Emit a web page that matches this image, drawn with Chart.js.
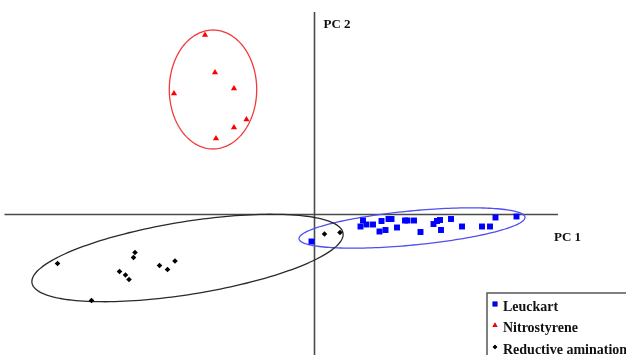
<!DOCTYPE html>
<html>
<head>
<meta charset="utf-8">
<script src="https://cdn.jsdelivr.net/npm/chart.js@4"></script>
<style>
  html, body { margin: 0; padding: 0; background: #fff; overflow: hidden; }
  #wrap { width: 626px; height: 355px; position: relative; }
</style>
</head>
<body>
<div id="wrap"><canvas id="pca"></canvas></div>
<script>
// PCA scores (PC 1, PC 2) for each synthesis route
const leuckartPC1 = [-0.06, 0.97, 0.92, 1.04, 1.17, 1.34, 1.30, 1.42, 1.48, 1.54, 1.65, 1.81, 1.86, 1.99, 2.12, 2.38, 2.45, 2.51, 2.53, 2.73, 2.95, 3.35, 3.51, 3.62, 4.04];
const leuckartPC2 = [-0.54, -0.12, -0.24, -0.20, -0.20, -0.13, -0.34, -0.31, -0.09, -0.09, -0.26, -0.12, -0.12, -0.12, -0.35, -0.19, -0.13, -0.11, -0.31, -0.09, -0.24, -0.24, -0.24, -0.06, -0.04];

const nitroPC1 = [-2.19, -1.99, -1.61, -2.81, -1.36, -1.61, -1.97];
const nitroPC2 = [3.59, 2.84, 2.52, 2.42, 1.90, 1.74, 1.52];

const reductivePC1 = [-5.14, -4.46, -3.59, -3.62, -3.90, -3.78, -3.71, -3.10, -2.94, -2.79, 0.20, 0.51];
const reductivePC2 = [-0.98, -1.72, -0.76, -0.86, -1.14, -1.21, -1.30, -1.02, -1.10, -0.93, -0.39, -0.36];

const seriesNames = ['Leuckart', 'Nitrostyrene', 'Reductive amination'];
const axisNames = ['PC 1', 'PC 2'];

// Grouping ellipses: centre (PC1, PC2), semi-axes, rotation in degrees
const ellipseCentres = [[1.95, -0.27], [-2.03, 2.50], [-2.54, -0.87]];
const ellipseAxes = [[2.27, 0.342], [0.874, 1.19], [3.15, 0.728]];
const ellipseAngles = [5.47, 0, 9.1];
const ellipseColours = ['#4f4ff2', '#f23a3a', '#2a2a2a'];

const toPoints = (xs, ys) => xs.map((x, i) => ({ x, y: ys[i] }));

const serifBold = 'bold 14px "Liberation Serif", "Times New Roman", serif';

const ellipsePlugin = {
  id: 'groupEllipses',
  beforeDatasetsDraw(chart) {
    const { ctx, scales: { x, y } } = chart;
    ellipseCentres.forEach((c, k) => {
      const [a, b] = ellipseAxes[k];
      const t = ellipseAngles[k] * Math.PI / 180;
      ctx.save();
      ctx.beginPath();
      for (let i = 0; i <= 180; i++) {
        const u = (i / 180) * Math.PI * 2;
        const ex = a * Math.cos(u), ey = b * Math.sin(u);
        const dx = c[0] + ex * Math.cos(t) - ey * Math.sin(t);
        const dy = c[1] + ex * Math.sin(t) + ey * Math.cos(t);
        const px = x.getPixelForValue(dx), py = y.getPixelForValue(dy);
        if (i === 0) ctx.moveTo(px, py); else ctx.lineTo(px, py);
      }
      ctx.closePath();
      ctx.strokeStyle = ellipseColours[k];
      ctx.lineWidth = 1.3;
      ctx.stroke();
      ctx.restore();
    });
  }
};

const axesPlugin = {
  id: 'crossAxes',
  beforeDatasetsDraw(chart) {
    const { ctx, chartArea: area, scales: { x, y } } = chart;
    const x0 = x.getPixelForValue(0), y0 = y.getPixelForValue(0);
    ctx.save();
    ctx.strokeStyle = '#4a4a4a';
    ctx.lineWidth = 1.6;
    ctx.beginPath();
    ctx.moveTo(area.left, y0); ctx.lineTo(area.right, y0);
    ctx.moveTo(x0, area.top); ctx.lineTo(x0, area.bottom);
    ctx.stroke();
    ctx.fillStyle = '#111';
    ctx.font = 'bold 13px "Liberation Serif", "Times New Roman", serif';
    ctx.textBaseline = 'middle';
    ctx.fillText(axisNames[1], x0 + 9, area.top + 13);
    ctx.fillText(axisNames[0], area.right - 4, y0 + 23);
    ctx.restore();
  }
};

const legendPlugin = {
  id: 'boxLegend',
  afterDraw(chart) {
    const { ctx } = chart;
    const left = 487, top = 293;
    ctx.save();
    ctx.strokeStyle = '#555';
    ctx.lineWidth = 1.5;
    ctx.strokeRect(left, top, 200, 100);
    ctx.font = serifBold;
    ctx.textBaseline = 'middle';
    ctx.fillStyle = '#111';
    chart.data.datasets.forEach((ds, i) => {
      const cy = top + 11 + i * 21.5;
      Chart.helpers.drawPoint(ctx, {
        pointStyle: ds.pointStyle,
        radius: ds.pointRadius * 0.8,
        borderWidth: 0
      }, left + 8, cy);
      ctx.fillStyle = ds.backgroundColor;
      ctx.fill();
      ctx.fillStyle = '#111';
      ctx.fillText(ds.label, left + 16, cy + 3);
    });
    ctx.restore();
  }
};

new Chart(document.getElementById('pca'), {
  type: 'scatter',
  data: {
    datasets: [
      {
        label: seriesNames[0],
        data: toPoints(leuckartPC1, leuckartPC2),
        pointStyle: 'rect',
        pointRadius: 4.2,
        backgroundColor: '#0000ff',
        borderColor: '#0000ff',
        borderWidth: 0,
        clip: false
      },
      {
        label: seriesNames[1],
        data: toPoints(nitroPC1, nitroPC2),
        pointStyle: 'triangle',
        pointRadius: 3.6,
        backgroundColor: '#ff0000',
        borderColor: '#ff0000',
        borderWidth: 0,
        clip: false
      },
      {
        label: seriesNames[2],
        data: toPoints(reductivePC1, reductivePC2),
        pointStyle: 'rectRot',
        pointRadius: 2.8,
        backgroundColor: '#000000',
        borderColor: '#000000',
        borderWidth: 0,
        clip: false
      }
    ]
  },
  options: {
    responsive: true,
    maintainAspectRatio: false,
    animation: false,
    layout: { autoPadding: false, padding: { left: 4.5, right: 68, top: 12, bottom: 0 } },
    scales: {
      x: { type: 'linear', min: -6.2, max: 4.87, display: false },
      y: { type: 'linear', min: -2.81, max: 4.05, display: false }
    },
    plugins: {
      legend: { display: false },
      tooltip: { enabled: false }
    }
  },
  plugins: [axesPlugin, ellipsePlugin, legendPlugin]
});
</script>
</body>
</html>
